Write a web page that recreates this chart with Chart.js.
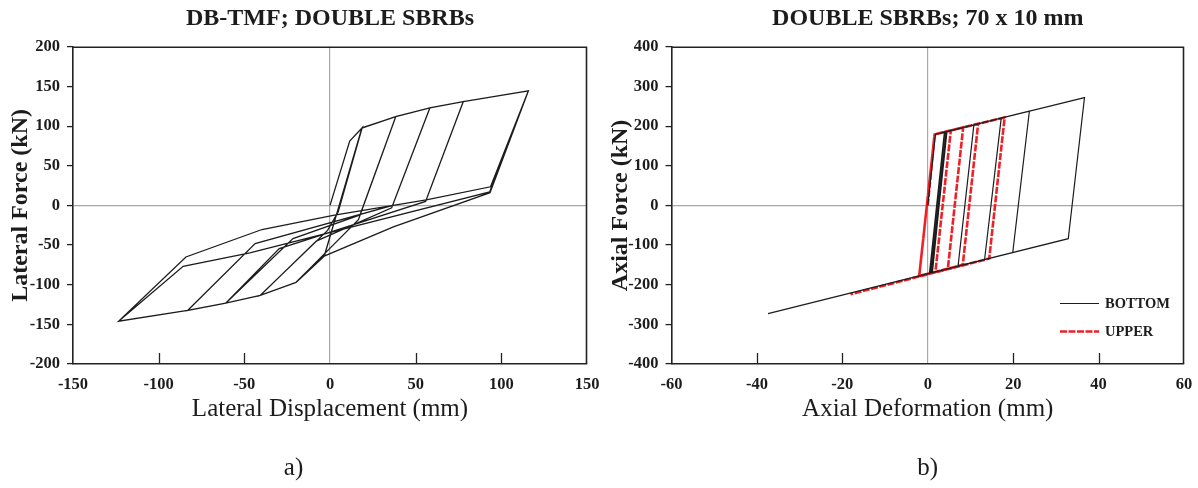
<!DOCTYPE html>
<html><head><meta charset="utf-8">
<script src="https://cdn.jsdelivr.net/npm/chart.js@4.4.1/dist/chart.umd.min.js"></script>
<style>
html,body{margin:0;padding:0;background:#fff;}
#wrap{position:relative;width:1198px;height:488px;overflow:hidden;}
.c{position:absolute;top:0;}
</style></head><body>
<div id="wrap">
<canvas id="c1" class="c" style="left:0" width="600" height="488"></canvas>
<canvas id="c2" class="c" style="left:600px" width="598" height="488"></canvas>
</div>
<script>
// ---------- DATA ----------
// a) DB-TMF; DOUBLE SBRBs  (lateral displacement mm, lateral force kN)
const dispA  = [0, 11.5, 18.8, -3.4, -19.8, -3.2, 18.6, 38.4, 16.6, -12, -19.8, -40.7, -1.4, 4.8, 18.8, 38.4, 58.3, 36, -8, -40.7, -60.9, -21.6, 17.5, 38.4, 58.3, 77.8, 55.8, -29.6, -60.9, -83.1, -43.7, 36.5, 58.3, 77.8, 115.8, 93.4, 37, -3.4, -19.8, -40.7, -60.9, -83.1, -123.4, -84.1, -39.7, 2.6, 56.2, 93.7, 115.8, 93.2, -46.8, -85.7, -123.4];
const forceA = [0, 81, 98, -64, -97, -63, 97.5, 112, -18, -80, -97, -113.5, -31.5, -8, 98, 112, 123, -3, -45, -113.5, -123.3, -41.8, -12, 112, 123, 131, 5, -54.4, -123.3, -132.5, -48.1, 0, 123, 131, 144.5, 16, -27, -64, -97, -113.5, -123.3, -132.5, -146.1, -65, -30.4, -12.3, 7, 23.5, 144.5, 17, -60, -76.8, -146.1];

// b) DOUBLE SBRBs; 70 x 10 mm  (axial deformation mm, axial force kN)
const defBottom   = [0, 1.8, 4.4, 1.1, 0.4, 3.9, 10.8, 7.1, 1.0, 4.5, 17.2, 13.3, 0.5, 4.0, 23.8, 19.9, 0.8, 4.3, 36.7, 32.9, -37.4];
const forceBottom = [0, 179, 186, -169, -171, 185, 203, -153, -170, 186, 220, -137, -171, 185, 238, -119, -170, 186, 272, -84, -273];
const defUpper    = [0, 1.6, 5.4, 1.8, -2.0, 1.6, 8.3, 4.7, -2.0, 1.6, 11.8, 8.2, -2.0, 1.6, 18.0, 14.4, -18.1];
const forceUpper  = [0, 179, 189, -168, -178, 179, 197, -160, -178, 179, 206, -150, -178, 179, 222, -134, -224];

// tick labels
const xTicksA = [-150, -100, -50, 0, 50, 100, 150];
const yTicksA = [-200, -150, -100, -50, 0, 50, 100, 150, 200];
const xTicksB = [-60, -40, -20, 0, 20, 40, 60];
const yTicksB = [-400, -300, -200, -100, 0, 100, 200, 300, 400];

// ---------- HELPERS ----------
const SERIF = "'Liberation Serif','Times New Roman',serif";
const INK = '#1c1c1c';
const pts = (xs, ys) => xs.map((x, i) => ({x: x, y: ys[i]}));

const frame = {
  id: 'frame',
  afterDraw(chart) {
    const {ctx, chartArea: a, scales: {x}} = chart;
    ctx.save();
    ctx.strokeStyle = '#222';
    ctx.lineWidth = 1.3;
    x.ticks.forEach(t => {
      if (t.value === x.min || t.value === x.max || t.value === 0) return;
      const px = Math.round(x.getPixelForValue(t.value)) + 0.5;
      ctx.beginPath(); ctx.moveTo(px, a.bottom); ctx.lineTo(px, a.bottom - 11); ctx.stroke();
    });
    ctx.lineWidth = 1.6;
    ctx.beginPath();
    ctx.moveTo(a.left, a.top + 0.5); ctx.lineTo(a.right - 0.5, a.top + 0.5); ctx.lineTo(a.right - 0.5, a.bottom);
    ctx.stroke();
    ctx.restore();
  }
};

const legendIn = {
  id: 'legendIn',
  afterDraw(chart, args, opts) {
    if (!opts || !opts.show) return;
    const {ctx, chartArea: a} = chart;
    ctx.save();
    chart.data.datasets.forEach((ds, i) => {
      const y = a.bottom - 61 + i * 28;
      ctx.strokeStyle = ds.borderColor;
      ctx.lineWidth = ds.borderWidth;
      ctx.setLineDash(ds.borderDash || []);
      ctx.beginPath(); ctx.moveTo(a.right - 124, y + 0.5); ctx.lineTo(a.right - 85, y + 0.5); ctx.stroke();
      ctx.setLineDash([]);
      ctx.fillStyle = INK;
      ctx.font = 'bold 14.5px ' + SERIF;
      ctx.textBaseline = 'middle';
      ctx.fillText(ds.label, a.right - 79, y + 1);
    });
    ctx.restore();
  }
};

function build(id, cfg) {
  const gridCol = c => (c.tick && c.tick.value === 0) ? '#a8a8a8' : 'rgba(0,0,0,0)';
  return new Chart(document.getElementById(id), {
    type: 'scatter',
    data: {datasets: cfg.datasets},
    options: {
      responsive: false,
      animation: false,
      layout: {padding: {left: 0, right: cfg.padRight, top: 0, bottom: 0}},
      elements: {point: {radius: 0, hoverRadius: 0}, line: {tension: 0}},
      plugins: {
        legend: {display: false},
        tooltip: {enabled: false},
        title: {display: true, text: cfg.title, color: INK, fullSize: false,
                font: {family: SERIF, size: 24, weight: 'bold'}, padding: {top: 4, bottom: 14}},
        subtitle: {display: true, position: 'bottom', text: cfg.sub, color: INK, fullSize: cfg.subFull,
                font: {family: SERIF, size: 25, weight: 'normal'}, padding: {top: 19, bottom: 5}},
        legendIn: {show: cfg.legend}
      },
      scales: {
        x: {
          type: 'linear', min: cfg.xt[0], max: cfg.xt[cfg.xt.length - 1],
          afterBuildTicks: s => { s.ticks = cfg.xt.map(v => ({value: v})); },
          ticks: {color: INK, font: {family: SERIF, size: 16.5, weight: 'bold'}, padding: 11, maxRotation: 0},
          grid: {color: gridCol, lineWidth: 1.2, drawTicks: false},
          border: {display: true, color: '#222', width: 1.6},
          title: {display: true, text: cfg.xTitle, color: INK,
                  font: {family: SERIF, size: 25, weight: 'normal'}, padding: {top: 0, bottom: 10}},
          afterFit: s => { s.height = 70; s.paddingLeft = 0; s.paddingRight = 0; }
        },
        y: {
          type: 'linear', min: cfg.yt[0], max: cfg.yt[cfg.yt.length - 1],
          afterBuildTicks: s => { s.ticks = cfg.yt.map(v => ({value: v})); },
          ticks: {color: INK, font: {family: SERIF, size: 16.5, weight: 'bold'}, padding: 7},
          grid: {color: gridCol, lineWidth: 1.2, drawTicks: true, tickLength: 6, tickColor: '#222', tickWidth: 1.3},
          border: {display: true, color: '#222', width: 1.6},
          title: {display: true, text: cfg.yTitle, color: INK,
                  font: {family: SERIF, size: 24, weight: 'bold'}, padding: {top: 6, bottom: 0}},
          afterFit: s => { s.width = cfg.yWidth; s.paddingTop = 0; s.paddingBottom = 0; }
        }
      }
    },
    plugins: [frame, legendIn]
  });
}

build('c1', {
  title: 'DB-TMF; DOUBLE SBRBs', sub: 'a)', subFull: true,
  xTitle: 'Lateral Displacement (mm)', yTitle: 'Lateral Force (kN)',
  xt: xTicksA, yt: yTicksA, yWidth: 73, padRight: 13, legend: false,
  datasets: [{label: 'DB-TMF', data: pts(dispA, forceA), showLine: true,
              borderColor: INK, borderWidth: 1.3, fill: false}]
});

build('c2', {
  title: 'DOUBLE SBRBs; 70 x 10 mm', sub: 'b)', subFull: false,
  xTitle: 'Axial Deformation (mm)', yTitle: 'Axial Force (kN)',
  xt: xTicksB, yt: yTicksB, yWidth: 71.5, padRight: 14, legend: true,
  datasets: [
    {label: 'BOTTOM', data: pts(defBottom, forceBottom), showLine: true,
     borderColor: INK, borderWidth: 1.2, fill: false},
    {label: 'UPPER', data: pts(defUpper, forceUpper), showLine: true,
     borderColor: '#ec2229', borderWidth: 2.6, borderDash: [7, 1.5], fill: false}
  ]
});
</script>
</body></html>
